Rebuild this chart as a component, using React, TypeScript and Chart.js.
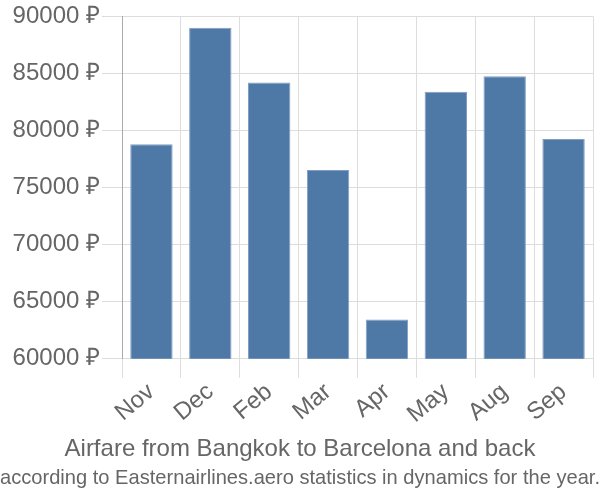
import React, { useEffect, useRef } from "react";
import { Chart, registerables } from "chart.js";

Chart.register(...registerables);

const months = ["Nov", "Dec", "Feb", "Mar", "Apr", "May", "Aug", "Sep"];
const prices = [78800, 89000, 84200, 76550, 63450, 83400, 84750, 79250];
const yTicks = [60000, 65000, 70000, 75000, 80000, 85000, 90000];
const titleText = "Airfare from Bangkok to Barcelona and back";
const subtitleText = "according to Easternairlines.aero statistics in dynamics for the year.";

export default function App() {
  const ref = useRef<HTMLCanvasElement>(null);
  useEffect(() => {
    document.body.style.margin = "0";
    const font = "'Liberation Sans', Arial, sans-serif";
    const chart = new Chart(ref.current!, {
      type: "bar",
      data: {
        labels: months,
        datasets: [
          {
            data: prices,
            backgroundColor: "#4e79a7",
            borderColor: "#7f9fc3",
            borderWidth: 1,
          },
        ],
      },
      options: {
        animation: false,
        responsive: false,
        layout: { padding: { top: 0, right: 0, left: 0, bottom: 0 } },
        plugins: {
          legend: { display: false },
          tooltip: { enabled: false },
          title: {
            display: true,
            text: titleText,
            position: "bottom",
            weight: 1000,
            color: "#666",
            font: { family: font, size: 24, weight: "normal" },
            padding: { top: 6, bottom: 0 },
          } as any,
          subtitle: {
            display: true,
            text: subtitleText,
            position: "bottom",
            color: "#666",
            font: { family: font, size: 21, weight: "normal" },
            padding: { top: 2, bottom: 9 },
          },
        },
        scales: {
          x: {
            afterFit: (axis: any) => {
              axis.paddingRight = Math.max(axis.paddingRight || 0, 7);
            },
            grid: { color: "#ddd", offset: true, tickLength: 19 },
            border: { color: "#ddd" },
            ticks: {
              color: "#666",
              font: { family: font, size: 24 },
              maxRotation: 40,
              minRotation: 40,
              padding: 0,
            },
          },
          y: {
            min: 60000,
            max: 90000,
            afterBuildTicks: (axis: any) => {
              axis.ticks = yTicks.map((v) => ({ value: v }));
            },
            afterFit: (axis: any) => {
              axis.width = 122;
            },
            grid: { color: "#ddd", tickLength: 20 },
            border: { color: "#aaa" },
            ticks: {
              color: "#666",
              font: { family: font, size: 24 },
              padding: 2,
              callback: (v: any) => `${v} ₽`,
            },
          },
        },
      },
    });
    return () => chart.destroy();
  }, []);
  return (
    <div style={{ position: "absolute", left: 0, top: 0, width: 600, height: 500 }}>
      <canvas ref={ref} width={600} height={500} />
    </div>
  );
}
